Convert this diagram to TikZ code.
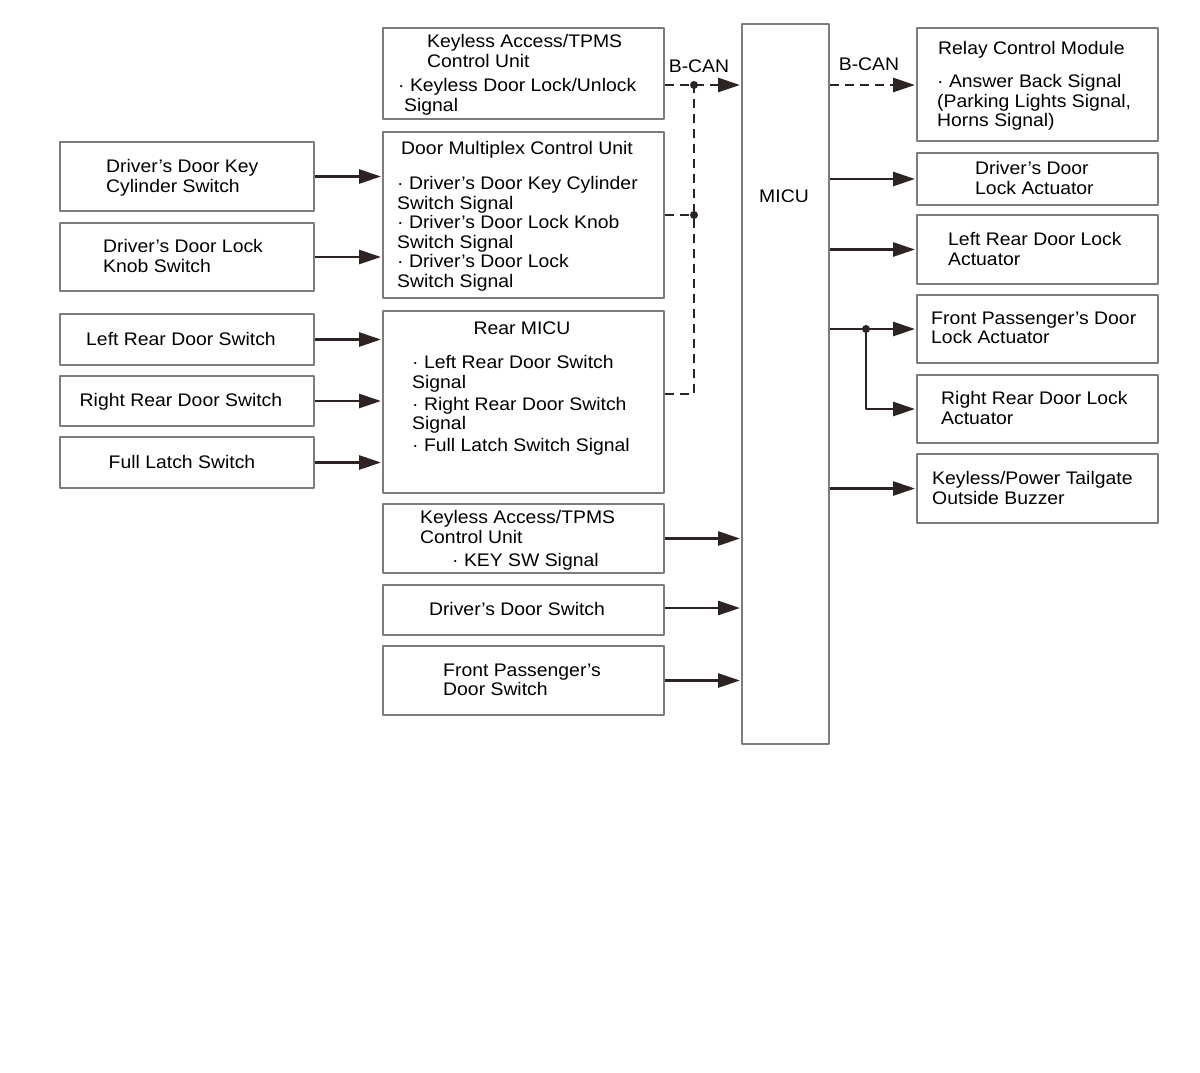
\documentclass[tikz,border=0pt]{standalone}
\usepackage{fontspec}
\setmainfont[FakeStretch=1.065]{Liberation Sans}
\usetikzlibrary{arrows.meta}
\definecolor{boxcol}{RGB}{128,122,120}
\definecolor{wirecol}{RGB}{45,35,35}
\tikzset{
  blk/.style={draw=boxcol, line width=2pt, inner sep=0pt},
  txt/.style={inner sep=0pt, anchor=north west, align=left},
  lbl/.style={inner sep=0pt, text height=13pt, text depth=0pt},
  sig/.style={draw=wirecol, line width=2.8pt, -{Triangle[length=22pt,width=14pt]}, shorten >=1pt},
  can/.style={sig, dash pattern=on 9pt off 6pt},
  canline/.style={draw=wirecol, line width=2.8pt, dash pattern=on 9pt off 6pt},
  jdot/.style={circle, fill=wirecol, inner sep=0pt, minimum size=8pt},
}
\begin{document}
\begin{tikzpicture}[x=1pt,y=-1pt,line join=bevel,font=\fontsize{18.2}{19.5}\selectfont]
  \fill[white] (0,0) rectangle (1200,1072);
  \useasboundingbox (0,0) rectangle (1200,1072);
%%
  % Node: left column (switches)
  \node[blk, minimum width=254, minimum height=69] (keycyl) at (187,176.5) {};
  \node[txt] (keycyl-t) at (106,159.4) {Driver’s Door Key\\Cylinder Switch};
  \node[blk, minimum width=254, minimum height=68] (knob) at (187,257) {};
  \node[txt] (knob-t) at (103,239.4) {Driver’s Door Lock\\Knob Switch};
  \node[blk, minimum width=254, minimum height=51] (lrsw) at (187,339.5) {};
  \node[lbl] (lrsw-t) at (181,339) {Left Rear Door Switch};
  \node[blk, minimum width=254, minimum height=50] (rrsw) at (187,401) {};
  \node[lbl] (rrsw-t) at (181,400) {Right Rear Door Switch};
  \node[blk, minimum width=254, minimum height=51] (latch) at (187,462.5) {};
  \node[lbl] (latch-t) at (182,462) {Full Latch Switch};
  % Node: middle column (control units)
  \node[blk, minimum width=281, minimum height=91] (kls1) at (523.5,73.5) {};
  \node[txt] (kls1-t) at (427,34.4) {Keyless Access/TPMS\\Control Unit};
  \node[txt] (kls1-s) at (398,78.4) {· Keyless Door Lock/Unlock\\\hspace*{6pt}Signal};
  \node[blk, minimum width=281, minimum height=166] (dmcu) at (523.5,215) {};
  \node[txt] (dmcu-t) at (401,141.4) {Door Multiplex Control Unit};
  \node[txt] (dmcu-s) at (397,176.4) {· Driver’s Door Key Cylinder\\Switch Signal\\· Driver’s Door Lock Knob\\Switch Signal\\· Driver’s Door Lock\\Switch Signal};
  \node[blk, minimum width=281, minimum height=182] (rmicu) at (523.5,402) {};
  \node[lbl] (rmicu-t) at (522,328) {Rear MICU};
  \node[txt] (rmicu-s) at (412,355.4) {· Left Rear Door Switch\\Signal\\[2.5pt]· Right Rear Door Switch\\Signal\\[2.5pt]· Full Latch Switch Signal};
  \node[blk, minimum width=281, minimum height=69] (kls2) at (523.5,538.5) {};
  \node[txt] (kls2-t) at (420,510.4) {Keyless Access/TPMS\\Control Unit};
  \node[txt] (kls2-s) at (452,553.4) {· KEY SW Signal};
  \node[blk, minimum width=281, minimum height=50] (ddsw) at (523.5,610) {};
  \node[lbl] (ddsw-t) at (517,609) {Driver’s Door Switch};
  \node[blk, minimum width=281, minimum height=69] (fpsw) at (523.5,680.5) {};
  \node[txt] (fpsw-t) at (443,663.4) {Front Passenger’s\\Door Switch};
  % Node: MICU
  \node[blk, minimum width=87, minimum height=720] (micu) at (785.5,384) {};
  \node[lbl] (micu-t) at (784,196) {MICU};
  % Node: right column (actuators)
  \node[blk, minimum width=241, minimum height=113] (relay) at (1037.5,84.5) {};
  \node[txt] (relay-t) at (938,41.4) {Relay Control Module};
  \node[txt] (relay-s) at (937,74.4) {· Answer Back Signal\\(Parking Lights Signal,\\Horns Signal)};
  \node[blk, minimum width=241, minimum height=52] (ddla) at (1037.5,179) {};
  \node[txt] (ddla-t) at (975,161.4) {Driver’s Door\\Lock Actuator};
  \node[blk, minimum width=241, minimum height=69] (lrla) at (1037.5,249.5) {};
  \node[txt] (lrla-t) at (948,232.4) {Left Rear Door Lock\\Actuator};
  \node[blk, minimum width=241, minimum height=68] (fpla) at (1037.5,329) {};
  \node[txt] (fpla-t) at (931,311.4) {Front Passenger’s Door\\Lock Actuator};
  \node[blk, minimum width=241, minimum height=68] (rrla) at (1037.5,409) {};
  \node[txt] (rrla-t) at (941,391.4) {Right Rear Door Lock\\Actuator};
  \node[blk, minimum width=241, minimum height=69] (buzz) at (1037.5,488.5) {};
  \node[txt] (buzz-t) at (932,471.4) {Keyless/Power Tailgate\\Outside Buzzer};
  % Node: bus labels and junctions
  \node[lbl] (can-l) at (699,66) {B-CAN};
  \node[lbl] (can-r) at (869,64) {B-CAN};
  \coordinate (busT) at (694,85);
  \coordinate (busM) at (694,215);
  \coordinate (busB) at (694,394);
  \coordinate (split) at (866,329);
%%
  % Edge: switches -> control units
  \draw[sig] (keycyl.east) -- (keycyl.east -| dmcu.west);
  \draw[sig] (knob.east) -- (knob.east -| dmcu.west);
  \draw[sig] (lrsw.east) -- (lrsw.east -| rmicu.west);
  \draw[sig] (rrsw.east) -- (rrsw.east -| rmicu.west);
  \draw[sig] (latch.east) -- (latch.east -| rmicu.west);
  % Edge: B-CAN bus -> MICU
  \draw[canline] (rmicu.east |- busB) -- (busB) -- (busT);
  \draw[canline] (dmcu.east |- busM) -- (busM);
  \draw[can] (kls1.east |- busT) -- (busT -| micu.west);
  \node[jdot] (dotT) at (busT) {};
  \node[jdot] (dotM) at (busM) {};
  % Edge: direct inputs -> MICU
  \draw[sig] (kls2.east) -- (kls2.east -| micu.west);
  \draw[sig] (ddsw.east |- 0,608) -- (micu.west |- 0,608);
  \draw[sig] (fpsw.east) -- (fpsw.east -| micu.west);
  % Edge: MICU -> outputs
  \draw[can] (micu.east |- busT) -- (busT -| relay.west);
  \draw[sig] (micu.east |- ddla.west) -- (ddla.west);
  \draw[sig] (micu.east |- lrla.west) -- (lrla.west);
  \draw[sig] (micu.east |- fpla.west) -- (fpla.west);
  \draw[sig] (split) |- (rrla.west);
  \node[jdot] (dotS) at (split) {};
  \draw[sig] (micu.east |- buzz.west) -- (buzz.west);
%
\end{tikzpicture}
\end{document}
